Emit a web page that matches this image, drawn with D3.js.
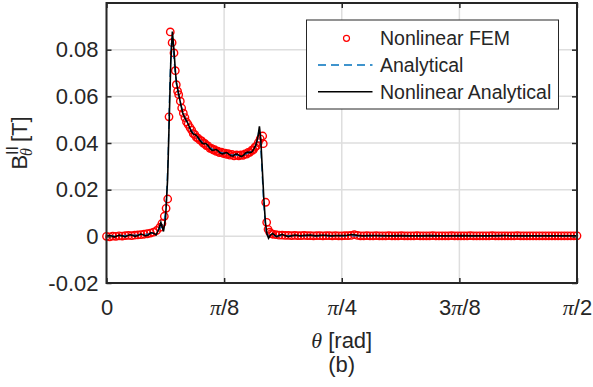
<!DOCTYPE html>
<html>
<head>
<meta charset="utf-8">
<script src="https://cdn.jsdelivr.net/npm/d3@7"></script>
<style>
  body { margin: 0; background: #fff; }
  text { font-family: "Liberation Sans", Arial, sans-serif; fill: #262626; }
</style>
</head>
<body>
<div id="vis"></div>
<script>
// theta in degrees, B in tesla
const femPoints = [
  [0,0.0000],[0.6,-0.0002],[1.2,0.0001],[1.8,0.0000],[2.4,0.0002],[3.0,0.0001],[3.6,0.0003],[4.2,0.0004],
  [4.8,0.0003],[5.4,0.0005],[6.0,0.0006],[6.6,0.0007],[7.2,0.0009],[7.8,0.0011],[8.4,0.0014],[9.0,0.0018],
  [9.6,0.0025],[10.2,0.0038],[10.6,0.0055],[11.06,0.0086],[11.4,0.0120],[11.71,0.0160],[11.96,0.0512],
  [12.2,0.0876],[12.55,0.0830],[12.91,0.0786],[13.16,0.0710],[13.35,0.0650],[13.6,0.0622],[13.81,0.0607],
  [14.12,0.0579],[14.38,0.0550],[14.7,0.0528],[15.0,0.0509],[15.3,0.0490],[15.6,0.0480],[15.97,0.0466],
  [16.3,0.0455],[16.6,0.0440],[16.9,0.0436],[17.2,0.0424],[17.5,0.0421],[17.88,0.0412],[18.2,0.0409],
  [18.5,0.0399],[18.8,0.0398],[19.1,0.0389],[19.4,0.0388],[19.79,0.0377],[20.1,0.0377],[20.4,0.0370],
  [20.7,0.0371],[21.0,0.0364],[21.3,0.0365],[21.6,0.0359],[22.0,0.0361],[22.34,0.0355],[22.7,0.0357],
  [23.0,0.0351],[23.3,0.0354],[23.6,0.0348],[24.0,0.0351],[24.4,0.0345],[24.9,0.0349],[25.3,0.0345],
  [25.7,0.0349],[26.1,0.0347],[26.5,0.0353],[26.82,0.0352],[27.1,0.0360],[27.4,0.0360],[27.8,0.0369],
  [28.08,0.0370],[28.4,0.0382],[28.7,0.0388],[29.04,0.0402],[29.4,0.0418],[29.88,0.0430],[29.99,0.0397],
  [30.45,0.0146],[30.64,0.0060],[30.9,0.0030],[31.2,0.0018],[31.5,0.0012],[31.8,0.0009],[32.4,0.0007],
  [33.0,0.0005],[33.6,0.0005],[34.2,0.0004],[34.8,0.0004],[35.4,0.0003],[36.0,0.0004],[36.6,0.0003],
  [37.2,0.0003],[37.8,0.0004],[38.4,0.0003],[39.0,0.0003],[39.6,0.0002],[40.2,0.0003],[40.8,0.0003],
  [41.4,0.0002],[42.0,0.0003],[42.6,0.0003],[43.2,0.0002],[43.8,0.0003],[44.4,0.0002],[45.0,0.0002],
  [45.6,0.0003],[46.2,0.0003],[46.8,0.0004],[47.4,0.0007],[48.0,0.0004],[48.6,0.0002],[49.2,0.0002],
  [49.8,0.0003],[50.4,0.0002],[51.0,0.0002],[51.6,0.0003],[52.2,0.0002],[52.8,0.0002],[53.4,0.0002],
  [54.0,0.0003],[54.6,0.0002],[55.2,0.0002],[55.8,0.0002],[56.4,0.0003],[57.0,0.0002],[57.6,0.0002],
  [58.2,0.0002],[58.8,0.0002],[59.4,0.0003],[60.0,0.0002],[60.6,0.0002],[61.2,0.0002],[61.8,0.0002],
  [62.4,0.0003],[63.0,0.0002],[63.6,0.0002],[64.2,0.0002],[64.8,0.0002],[65.4,0.0002],[66.0,0.0003],
  [66.6,0.0002],[67.2,0.0002],[67.8,0.0002],[68.4,0.0002],[69.0,0.0002],[69.6,0.0003],[70.2,0.0002],
  [70.8,0.0002],[71.4,0.0002],[72.0,0.0002],[72.6,0.0002],[73.2,0.0002],[73.8,0.0003],[74.4,0.0002],
  [75.0,0.0002],[75.6,0.0002],[76.2,0.0002],[76.8,0.0002],[77.4,0.0002],[78.0,0.0002],[78.6,0.0003],
  [79.2,0.0002],[79.8,0.0002],[80.4,0.0002],[81.0,0.0002],[81.6,0.0002],[82.2,0.0002],[82.8,0.0002],
  [83.4,0.0002],[84.0,0.0002],[84.6,0.0002],[85.2,0.0002],[85.8,0.0002],[86.4,0.0002],[87.0,0.0002],
  [87.6,0.0002],[88.2,0.0002],[88.8,0.0002],[89.4,0.0002],[90.0,0.0002]
];

const analyticalPoints = [
  [0,0.0001],[1,0.0002],[2,0.0002],[3,0.0003],[4,0.0004],[5,0.0005],[6,0.0006],[7,0.0008],[8,0.0010],
  [9,0.0015],[9.5,0.0020],[10,0.0028],[10.5,0.0040],[11.0,0.0065],[11.4,0.0120],[11.8,0.0350],[12.1,0.0650],
  [12.45,0.0850],[12.8,0.0790],[13.1,0.0710],[13.4,0.0650],[13.8,0.0605],[14.2,0.0568],[14.6,0.0533],
  [15.0,0.0506],[15.5,0.0483],[16.0,0.0463],[16.5,0.0445],[17.0,0.0431],[17.5,0.0420],[18.0,0.0411],
  [18.5,0.0401],[19.0,0.0393],[19.5,0.0384],[20.0,0.0377],[20.5,0.0371],[21.0,0.0366],[21.5,0.0362],
  [22.0,0.0359],[22.5,0.0356],[23.0,0.0353],[23.5,0.0351],[24.0,0.0349],[24.5,0.0348],[25.0,0.0347],
  [25.5,0.0347],[26.0,0.0348],[26.5,0.0351],[27.0,0.0356],[27.5,0.0363],[28.0,0.0371],[28.5,0.0385],
  [28.9,0.0420],[29.15,0.0455],[29.4,0.0420],[29.7,0.0300],[30.0,0.0170],[30.3,0.0070],[30.6,0.0015],
  [31.0,0.0003],[32,0.0002],[36,0.0003],[40,0.0002],[45,0.0002],[50,0.0002],[60,0.0002],[70,0.0002],
  [80,0.0002],[90,0.0002]
];

const nonlinearPoints = [
  [0,0],[0.5,0.0004],[1,0.0001],[1.5,-0.0003],[2,0.0001],[2.5,0.0005],[3,0.0002],[3.5,-0.0002],[4,0.0002],
  [4.5,0.0007],[5,0.0004],[5.5,0],[6,0.0004],[6.5,0.001],[7,0.0007],[7.5,0.0002],[8,0.0006],[8.5,0.0016],
  [9,0.0013],[9.5,0.0006],[10,0.003],[10.4,0.006],[10.9,0.0021],[11.3,0.008],[11.7,0.025],[12,0.05],
  [12.3,0.075],[12.6,0.0878],[12.9,0.08],[13.2,0.07],[13.4,0.0656],[13.8,0.061],[14.2,0.0566],[14.6,0.0527],
  [15,0.0507],[15.4,0.0492],[15.8,0.0472],[16.2,0.045],[16.6,0.0438],[17,0.0435],[17.4,0.0428],[17.8,0.0414],
  [18.2,0.0401],[18.6,0.0397],[19,0.0398],[19.4,0.039],[19.8,0.0376],[20.2,0.0368],[20.6,0.037],[21,0.0372],
  [21.4,0.0365],[21.8,0.0356],[22.2,0.0353],[22.6,0.0357],[23,0.0359],[23.4,0.0352],[23.8,0.0345],
  [24.2,0.0344],[24.6,0.0352],[25,0.0353],[25.4,0.0346],[25.8,0.0342],[26.2,0.0347],[26.6,0.0357],
  [27,0.0361],[27.4,0.0359],[27.8,0.0361],[28.2,0.0375],[28.6,0.0393],[29,0.043],[29.25,0.0471],
  [29.5,0.042],[29.8,0.029],[30.1,0.016],[30.4,0.006],[30.7,0.001],[31,-0.0008],[31.4,0.0006],[31.8,0.0012],
  [32.2,0.0004],[32.6,-0.0002],[33,0.0004],[33.6,0.0008],[34.2,0.0003],[34.8,-0.0001],[35.5,0.0003],
  [36.2,0.0005],[37,0.0002],[38,0.0004],[39,0.0005],[40,0.0002],[41,0.0004],[42,0.0004],[43,0.0002],
  [44,0.0003],[45,0.0003],[46,0.0004],[47,0.0008],[48,0.0004],[49,0.0002],[50,0.0003],[52,0.0003],
  [54,0.0002],[56,0.0003],[58,0.0002],[60,0.0002],[62,0.0003],[64,0.0002],[66,0.0002],[68,0.0003],
  [70,0.0002],[72,0.0002],[74,0.0002],[76,0.0003],[78,0.0002],[80,0.0002],[82,0.0002],[84,0.0002],
  [86,0.0002],[88,0.0002],[90,0.0002]
];

const xTicks = [0, Math.PI/8, Math.PI/4, 3*Math.PI/8, Math.PI/2];
const xTickLabels = ["0", "π/8", "π/4", "3π/8", "π/2"];
const yTicks = [-0.02, 0, 0.02, 0.04, 0.06, 0.08];
const yTickLabels = ["-0.02", "0", "0.02", "0.04", "0.06", "0.08"];
const yGrid = [-0.02, 0, 0.02, 0.04, 0.06, 0.08, 0.1];
const legendNames = ["Nonlinear FEM", "Analytical", "Nonlinear Analytical"];

let W = 593, H = 387;
let margin = {top: 3, left: 106.5, right: 16, bottom: 104};
let width = W - margin.left - margin.right,
    height = H - margin.top - margin.bottom;

let svg = d3.select('#vis')
  .append('svg')
  .attr('width', W)
  .attr('height', H)
  .style('display', 'block');

let g = svg.append('g').attr('transform', `translate(${margin.left},${margin.top})`);

let x = d3.scaleLinear().domain([0, Math.PI/2]).range([0, width]);
let y = d3.scaleLinear().domain([-0.02, 0.1]).range([height, 0]);
const rad = d => d * Math.PI / 180;

// grid
g.append('g').selectAll('line.vx')
  .data(xTicks).join('line')
  .attr('x1', d => x(d)).attr('x2', d => x(d))
  .attr('y1', 0).attr('y2', height)
  .attr('stroke', '#dedede').attr('stroke-width', 1.5);
g.append('g').selectAll('line.hy')
  .data(yGrid).join('line')
  .attr('x1', 0).attr('x2', width)
  .attr('y1', d => y(d)).attr('y2', d => y(d))
  .attr('stroke', '#dedede').attr('stroke-width', 1.5);

// FEM circles
g.append('g').selectAll('circle')
  .data(femPoints).join('circle')
  .attr('cx', d => x(rad(d[0])))
  .attr('cy', d => y(d[1]))
  .attr('r', 3.7)
  .attr('fill', 'none')
  .attr('stroke', '#ff0000')
  .attr('stroke-width', 1.4);

let line = d3.line().x(d => x(rad(d[0]))).y(d => y(d[1]));

g.append('path')
  .datum(analyticalPoints)
  .attr('d', line)
  .attr('fill', 'none')
  .attr('stroke', '#0072bd')
  .attr('stroke-width', 1.3)
  .attr('stroke-dasharray', '8,5');

g.append('path')
  .datum(nonlinearPoints)
  .attr('d', line)
  .attr('fill', 'none')
  .attr('stroke', '#000')
  .attr('stroke-width', 1.6);

// axes
let yAxis = d3.axisLeft(y).tickValues(yTicks).tickSize(-5).tickPadding(8)
  .tickFormat((d, i) => yTickLabels[i]);
let gy = g.append('g').call(yAxis);
gy.select('.domain').remove();
gy.selectAll('text').style('font-size', '22px').attr('fill', '#262626');
gy.selectAll('line').attr('stroke', '#262626').attr('stroke-width', 1.5);

let yAxisR = d3.axisRight(y).tickValues(yTicks).tickSize(-5).tickFormat('');
let gyr = g.append('g').attr('transform', `translate(${width},0)`).call(yAxisR);
gyr.select('.domain').remove();
gyr.selectAll('line').attr('stroke', '#262626').attr('stroke-width', 1.5);

let xAxis = d3.axisBottom(x).tickValues(xTicks).tickSize(-5).tickPadding(16.5)
  .tickFormat('');
let gx = g.append('g').attr('transform', `translate(0,${height})`).call(xAxis);
gx.select('.domain').remove();
gx.selectAll('line').attr('stroke', '#262626').attr('stroke-width', 1.5);
gx.selectAll('.tick text').each(function(d, i) {
  let t = d3.select(this).style('font-size', '22px').attr('fill', '#262626');
  let parts = xTickLabels[i].split('π');
  t.append('tspan').text(parts[0]);
  if (parts.length > 1) {
    t.append('tspan').text('π')
      .style('font-family', '"Liberation Serif", "DejaVu Serif", serif')
      .style('font-style', 'italic');
    t.append('tspan').text(parts[1]);
  }
});

let xAxisT = d3.axisTop(x).tickValues(xTicks).tickSize(-5).tickFormat('');
let gxt = g.append('g').call(xAxisT);
gxt.select('.domain').remove();
gxt.selectAll('line').attr('stroke', '#262626').attr('stroke-width', 1.5);

// box
g.append('rect')
  .attr('x', 0).attr('y', 0)
  .attr('width', width).attr('height', height)
  .attr('fill', 'none')
  .attr('stroke', '#262626')
  .attr('stroke-width', 2);

// x label
let xl = svg.append('text')
  .attr('x', margin.left + width / 2)
  .attr('y', 348)
  .attr('text-anchor', 'middle')
  .style('font-size', '22px');
xl.append('tspan').text('θ')
  .style('font-family', '"Liberation Serif", "DejaVu Serif", serif')
  .style('font-style', 'italic');
xl.append('tspan').text(' [rad]');

svg.append('text')
  .attr('x', margin.left + width / 2)
  .attr('y', 372)
  .attr('text-anchor', 'middle')
  .style('font-size', '22px')
  .text('(b)');

// y label
let yl = svg.append('text')
  .attr('transform', `translate(27,${margin.top + height / 2}) rotate(-90)`)
  .attr('text-anchor', 'middle')
  .style('font-size', '22px');
yl.append('tspan').text('B');
yl.append('tspan').text('II').attr('dy', -9).style('font-size', '16px');
yl.append('tspan').text('θ').attr('dx', -10).attr('dy', 14)
  .style('font-size', '16px')
  .style('font-family', '"Liberation Serif", "DejaVu Serif", serif')
  .style('font-style', 'italic');
yl.append('tspan').text(' [T]').attr('dy', -5);

// legend
let lg = svg.append('g').attr('transform', 'translate(306.5,20)');
lg.append('rect')
  .attr('width', 252).attr('height', 89)
  .attr('fill', '#fff')
  .attr('stroke', '#262626')
  .attr('stroke-width', 1);

let rowY = [18.3, 45, 71.7];
lg.append('circle')
  .attr('cx', 40).attr('cy', rowY[0]).attr('r', 3)
  .attr('fill', 'none').attr('stroke', '#ff0000').attr('stroke-width', 1.2);
lg.append('line')
  .attr('x1', 11.5).attr('x2', 66).attr('y1', rowY[1]).attr('y2', rowY[1])
  .attr('stroke', '#0072bd').attr('stroke-width', 1.3)
  .attr('stroke-dasharray', '8,5');
lg.append('line')
  .attr('x1', 11.5).attr('x2', 66).attr('y1', rowY[2]).attr('y2', rowY[2])
  .attr('stroke', '#000').attr('stroke-width', 1.6);

lg.selectAll('text.lab')
  .data(legendNames).join('text')
  .attr('x', 73.5)
  .attr('y', (d, i) => rowY[i] + 7)
  .style('font-size', '19.5px')
  .text(d => d);
</script>
</body>
</html>
